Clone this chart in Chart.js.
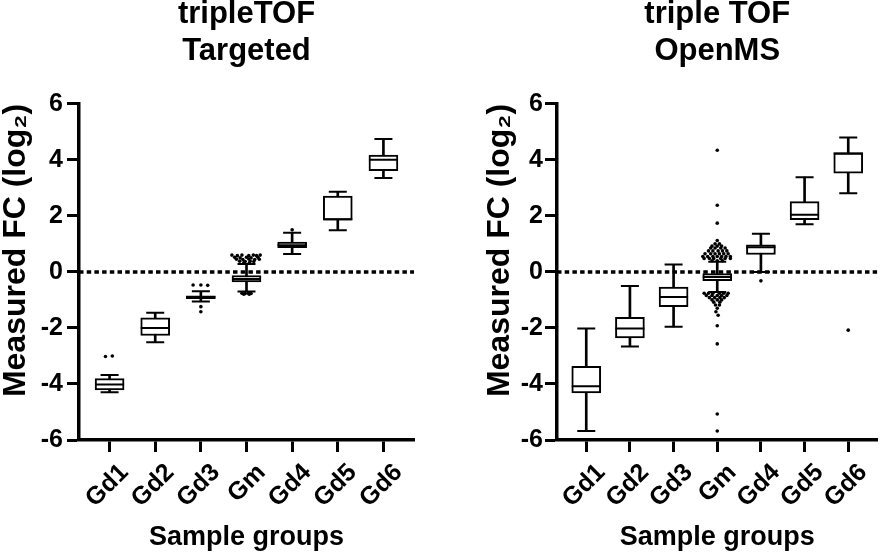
<!DOCTYPE html>
<html lang="en">
<head>
<meta charset="UTF-8">
<title>tripleTOF fold changes</title>
<script src="https://cdn.jsdelivr.net/npm/chart.js"></script>
<style>
  body { margin: 0; background: #fff; }
  #wrap { position: relative; width: 894px; height: 554px; }
  canvas { position: absolute; top: 0; }
  #left { left: 0; }
  #right { left: 447px; }
</style>
</head>
<body>
<div id="wrap">
  <canvas id="left" width="447" height="554"></canvas>
  <canvas id="right" width="447" height="554"></canvas>
</div>
<script>
const groups = ['Gd1', 'Gd2', 'Gd3', 'Gm', 'Gd4', 'Gd5', 'Gd6'];
const yTicks = [-6, -4, -2, 0, 2, 4, 6];

// tripleTOF Targeted
const targetedLow  = [-4.30, -2.51, -1.06, -0.70, 0.64, 1.49, 3.35];
const targetedQ1   = [-4.21, -2.27, -0.96, -0.36, 0.86, 1.85, 3.61];
const targetedMed  = [-4.02, -2.00, -0.90, -0.25, 0.95, 1.88, 4.00];
const targetedQ3   = [-3.81, -1.64, -0.85, -0.13, 1.06, 2.71, 4.17];
const targetedHigh = [-3.68, -1.46, -0.69, 0.28, 1.40, 2.86, 4.74];
// [group, horizontal spread, value]
const targetedOutliers = [
  [1, -0.09, -3.02], [1, 0.06, -3.00],
  [3, -0.17, -0.47], [3, 0.00, -0.47], [3, 0.15, -0.48], [3, 0.00, -1.24], [3, 0.00, -1.42],
  [4, -0.32, 0.60], [4, -0.20, 0.58], [4, -0.10, 0.60], [4, 0.05, 0.58], [4, 0.15, 0.60], [4, 0.22, 0.58], [4, 0.30, 0.60],
  [4, -0.26, 0.52], [4, -0.14, 0.50], [4, 0.00, 0.52], [4, 0.10, 0.50], [4, 0.25, 0.52],
  [4, -0.22, 0.45], [4, -0.08, 0.44], [4, 0.05, 0.46], [4, 0.18, 0.44], [4, 0.28, 0.45],
  [4, -0.15, 0.38], [4, -0.03, 0.37], [4, 0.08, 0.38], [4, 0.16, 0.37],
  [4, -0.06, 0.32], [4, 0.06, 0.31],
  [4, -0.10, -0.76], [4, -0.03, -0.77], [4, 0.04, -0.76], [4, 0.10, -0.77], [4, -0.06, -0.80], [4, 0.06, -0.80],
  [5, 0.00, 1.50]
];

// triple TOF OpenMS
const openmsLow  = [-5.68, -2.66, -1.96, -0.72, 0.00, 1.70, 2.81];
const openmsQ1   = [-4.32, -2.36, -1.24, -0.31, 0.62, 1.86, 3.52];
const openmsMed  = [-4.08, -2.02, -0.90, -0.18, 0.88, 2.04, 4.22];
const openmsQ3   = [-3.37, -1.62, -0.54, -0.06, 0.97, 2.51, 4.26];
const openmsHigh = [-2.02, -0.50, 0.26, 0.36, 1.36, 3.38, 4.80];
const openmsOutliers = [
  [4, 0.00, 4.34], [4, 0.00, 2.38], [4, 0.00, 1.74], [4, 0.00, 1.12],
  [4, -0.05, 1.00], [4, 0.05, 1.00],
  [4, -0.12, 0.92], [4, 0.00, 0.92], [4, 0.10, 0.92],
  [4, -0.15, 0.85], [4, -0.05, 0.85], [4, 0.08, 0.85], [4, 0.18, 0.85],
  [4, -0.20, 0.75], [4, -0.10, 0.75], [4, 0.02, 0.75], [4, 0.12, 0.75], [4, 0.22, 0.75],
  [4, -0.28, 0.65], [4, -0.15, 0.65], [4, -0.05, 0.65], [4, 0.05, 0.65], [4, 0.15, 0.65], [4, 0.25, 0.65],
  [4, -0.33, 0.55], [4, -0.22, 0.55], [4, -0.10, 0.55], [4, 0.00, 0.55], [4, 0.10, 0.55], [4, 0.20, 0.55], [4, 0.30, 0.55],
  [4, -0.30, 0.48], [4, -0.18, 0.48], [4, -0.08, 0.48], [4, 0.08, 0.48], [4, 0.18, 0.48], [4, 0.30, 0.48],
  [4, -0.12, 0.40], [4, 0.00, 0.40], [4, 0.12, 0.40],
  [4, -0.30, -0.76], [4, -0.20, -0.76], [4, -0.10, -0.76], [4, 0.05, -0.76], [4, 0.15, -0.76], [4, 0.25, -0.76],
  [4, -0.25, -0.84], [4, -0.12, -0.84], [4, 0.00, -0.84], [4, 0.10, -0.84], [4, 0.22, -0.84],
  [4, -0.18, -0.92], [4, -0.06, -0.92], [4, 0.06, -0.92], [4, 0.16, -0.92],
  [4, -0.12, -1.00], [4, 0.00, -1.00], [4, 0.10, -1.00],
  [4, -0.08, -1.08], [4, 0.06, -1.08],
  [4, -0.04, -1.18], [4, 0.05, -1.18],
  [4, 0.00, -1.30], [4, -0.03, -1.42], [4, 0.02, -1.55],
  [4, 0.00, -1.92], [4, 0.00, -2.57], [4, 0.00, -5.07], [4, 0.00, -5.68],
  [5, 0.00, -0.32],
  [7, 0.00, -2.08]
];

const X_MIN = 0.33, X_MAX = 7.67;

Chart.defaults.font.family = "'Liberation Sans', Arial, sans-serif";
Chart.defaults.color = '#000';

function drawPanel(canvasId, title, lo, q1, med, q3, hi, outliers, yWidth, padRight, yTitlePad, yTickPad) {
  const xs = groups.map((g, i) => i + 1);
  const pts = arr => arr.map((v, i) => ({ x: i + 1, y: v }));
  const ranges = (a, b) => a.map((v, i) => ({ x: i + 1, y: [v, b[i]] }));

  new Chart(document.getElementById(canvasId), {
    type: 'bar',
    data: {
      datasets: [
        { type: 'line', data: [{ x: X_MIN, y: 0 }, { x: X_MAX, y: 0 }], borderColor: '#000',
          borderWidth: 3.5, borderDash: [4.5, 3.2], pointRadius: 0, order: 6 },
        { data: ranges(lo, hi), backgroundColor: '#000', borderWidth: 0, barThickness: 2, grouped: false, order: 5 },
        { data: ranges(q1, q3), backgroundColor: '#fff', borderColor: '#000', borderWidth: 2,
          borderSkipped: false, barThickness: 29, grouped: false, order: 4 },
        { type: 'scatter', data: pts(med), pointStyle: 'line', radius: 14.5, borderWidth: 2, borderColor: '#000', order: 3 },
        { type: 'scatter', data: pts(lo).concat(pts(hi)), pointStyle: 'line', radius: 9, borderWidth: 2, borderColor: '#000', order: 2 },
        { type: 'scatter', data: outliers.map(([g, dx, v]) => ({ x: g + dx, y: v })), pointStyle: 'circle',
          radius: 1.8, backgroundColor: '#000', borderWidth: 0, order: 1 }
      ]
    },
    options: {
      responsive: false,
      animation: false,
      events: [],
      layout: { padding: { left: 0, right: padRight, top: 0, bottom: 0 } },
      plugins: {
        legend: { display: false },
        tooltip: { enabled: false },
        title: {
          display: true, text: title, fullSize: false, color: '#000',
          font: { size: 31, weight: 'bold', lineHeight: 1.19 },
          padding: { top: -3.5, bottom: 33.5 }
        }
      },
      scales: {
        x: {
          type: 'linear', min: X_MIN, max: X_MAX, offset: false,
          afterBuildTicks: s => { s.ticks = xs.map(v => ({ value: v })); },
          afterFit: s => { s.height = 114; },
          border: { color: '#000', width: 3.5 },
          grid: { drawOnChartArea: false, offset: false, tickLength: 12, tickWidth: 3, tickColor: '#000' },
          ticks: { autoSkip: false, minRotation: 45, maxRotation: 45, padding: 6, labelOffset: 15, color: '#000',
                   font: { size: 25, weight: 'bold' }, callback: v => groups[v - 1] },
          title: { display: true, text: 'Sample groups', color: '#000', font: { size: 27, weight: 'bold' },
                   padding: { top: 0, bottom: 0 } }
        },
        y: {
          min: -6, max: 6, beginAtZero: false,
          afterBuildTicks: s => { s.ticks = yTicks.map(v => ({ value: v })); },
          afterFit: s => { s.width = yWidth; },
          border: { color: '#000', width: 3.5 },
          grid: { drawOnChartArea: false, tickLength: 12, tickWidth: 3, tickColor: '#000' },
          ticks: { padding: yTickPad, color: '#000', font: { size: 25, weight: 'bold' }, callback: v => String(v) },
          title: { display: true, text: 'Measured FC (log\u2082)', align: 'end', color: '#000',
                   font: { size: 32, weight: 'bold', lineHeight: 1 }, padding: { top: yTitlePad, bottom: 0 } }
        }
      }
    }
  });
}

drawPanel('left', ['tripleTOF', 'Targeted'], targetedLow, targetedQ1, targetedMed, targetedQ3, targetedHigh,
          targetedOutliers, 79, 33, 0, 4);
drawPanel('right', ['triple TOF', 'OpenMS'], openmsLow, openmsQ1, openmsMed, openmsQ3, openmsHigh,
          openmsOutliers, 110, 4, 37, 2);
</script>
</body>
</html>
